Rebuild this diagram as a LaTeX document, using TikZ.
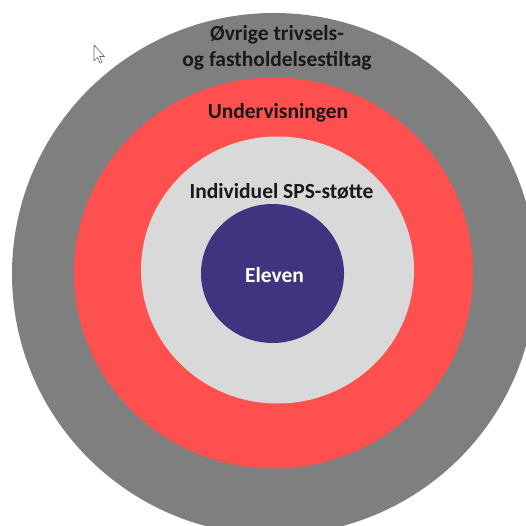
\documentclass[tikz,border=0pt]{standalone}
\usepackage{fontspec}
\setmainfont{Carlito}
\definecolor{ringgray}{HTML}{7F7F7F}
\definecolor{ringred}{HTML}{FF5050}
\definecolor{ringlight}{HTML}{D9D9D9}
\definecolor{corepurple}{HTML}{41337F}
\tikzset{
  ringlabel/.style={font=\fontsize{21.5}{26}\selectfont\bfseries, text=black!90, align=center, inner sep=0pt},
  corelabel/.style={ringlabel, text=white}
}
\begin{document}
\begin{tikzpicture}[x=1pt,y=-1pt]
  \useasboundingbox (0,0) rectangle (526,526);
  \clip (0,0) rectangle (526,526);

  % Draw the rings from outside in
  \fill[ringgray]   (274,274) ellipse (262 and 261);
  \fill[ringred]    (273.5,273) ellipse (199.5 and 195.5);
  \fill[ringlight]  (277.5,270) ellipse (136.5 and 133.5);
  \fill[corepurple] (272.5,273.5) ellipse (71.5 and 69.5);

  % Label the rings
  \node[ringlabel] (tiltag) at (277,48) {Øvrige trivsels-\\og fastholdelsestiltag};
  \node[ringlabel] (undervisning) at (278,113) {Undervisningen};
  \node[ringlabel] (stotte) at (281.5,191) {Individuel SPS-støtte};
  \node[corelabel] (eleven) at (274.5,275) {Eleven};

  % Mouse pointer
  \draw[fill=white, draw=black!60, line width=0.6pt, line join=round]
    (94,45) -- (94,61) -- (97.5,57.5) -- (100,63) -- (102,62) -- (99.5,56.5) -- (104.5,56.5) -- cycle;
\end{tikzpicture}
\end{document}
